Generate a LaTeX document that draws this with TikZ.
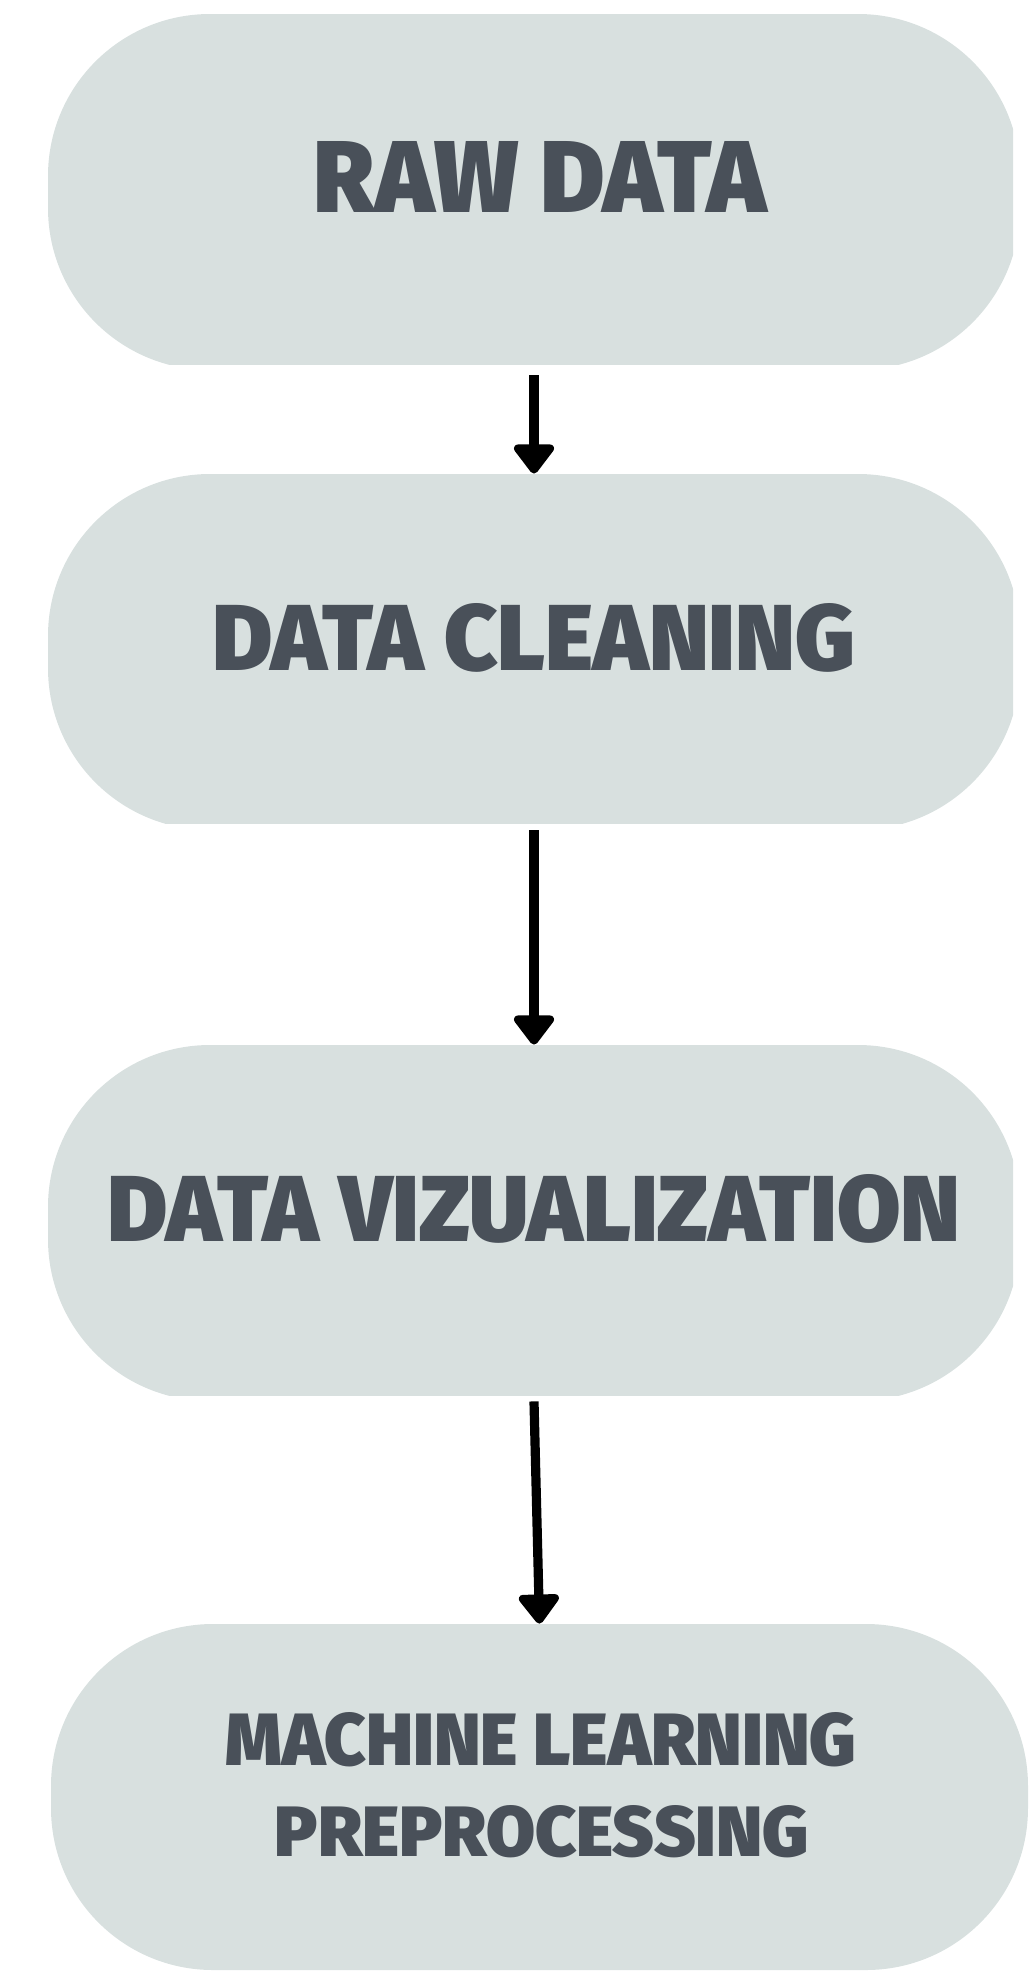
\documentclass[tikz,border=0pt]{standalone}
\usepackage{fontspec}
\setmainfont{Fira Sans}
\IfFontExistsTF{Fira Sans Black}{\newfontfamily\heavyfont{Fira Sans Black}}{\newfontfamily\heavyfont{Fira Sans}[UprightFont=*-Bold]}
\usetikzlibrary{arrows.meta}
\definecolor{boxfill}{HTML}{D8E0DF}
\definecolor{boxtext}{HTML}{495059}
\begin{document}
\begin{tikzpicture}[x=0.5pt,y=-0.5pt,
  box/.style={fill=boxfill, rounded corners=81pt, minimum width=486pt, minimum height=178pt, inner sep=0pt},
  lbl/.style={text=boxtext, inner sep=0pt, font=\heavyfont},
  flow/.style={line width=4.6pt, -{Triangle[width=23pt,length=16pt,round]}}]
\useasboundingbox (0,0) rectangle (1036,1983);
% boxes (clipped like the reference)
\begin{scope}
  \clip (0,0) rectangle (1013,364);
  \node[box] (b1) at (534,192) {};
\end{scope}
\begin{scope}
  \clip (0,460) rectangle (1013,823);
  \node[box] (b2) at (534,652) {};
\end{scope}
\begin{scope}
  \clip (0,1030) rectangle (1013,1395);
  \node[box] (b3) at (534,1223) {};
\end{scope}
\node[box, minimum width=488.5pt, minimum height=173pt] (b4) at (539.5,1797) {};
% labels
\node[lbl] (t1) at (540,176.5) {\resizebox{226pt}{35.5pt}{RAW DATA}};
\node[lbl] (t2) at (534,638) {\resizebox{321.5pt}{33.5pt}{DATA CLEANING}};
\node[lbl] (t3) at (534,1209) {\resizebox{426.5pt}{33.5pt}{DATA VIZUALIZATION}};
\node[lbl] (t4a) at (541,1740) {\resizebox{315.5pt}{26.5pt}{MACHINE LEARNING}};
\node[lbl] (t4b) at (542,1832) {\resizebox{267pt}{25.5pt}{PREPROCESSING}};
% connectors
\draw[flow, shorten <=2.5pt] (b1.south) -- (b2.north);
\draw[flow] (b2.south) -- (b3.north);
\draw[flow] (b3.south) -- (b4.north);
\end{tikzpicture}
\end{document}
